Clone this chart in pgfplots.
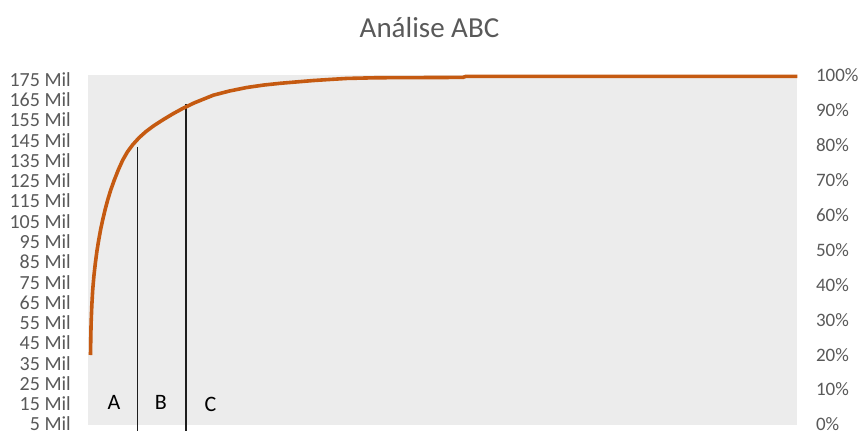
\documentclass[border=0pt]{standalone}
\usepackage{pgfplots}
\pgfplotsset{compat=1.18}
\usepackage{fontspec}
\setmainfont{Carlito}
\definecolor{bggray}{RGB}{236,236,236}
\definecolor{txtgray}{RGB}{89,89,89}
\definecolor{curveorange}{RGB}{197,90,17}
\definecolor{vline}{RGB}{30,30,30}
\begin{document}
\begin{tikzpicture}[x=1pt,y=1pt]
\useasboundingbox (0,0) rectangle (859,431);
\begin{axis}[
  at={(88.5pt,6.5pt)}, anchor=south west,
  scale only axis, width=708.8pt, height=349.2pt,
  xmin=0, xmax=709, ymin=4.8, ymax=177.0,
  xtick=\empty,
  ytick={5,15,...,175},
  yticklabels={5 Mil,15 Mil,25 Mil,35 Mil,45 Mil,55 Mil,65 Mil,75 Mil,85 Mil,95 Mil,105 Mil,115 Mil,125 Mil,135 Mil,145 Mil,155 Mil,165 Mil,175 Mil},
  yticklabel style={anchor=east, inner sep=0pt, xshift=-17.5pt, font=\fontsize{20}{22}\selectfont, text=txtgray},
  major tick length=0pt,
  axis line style={draw=none},
  axis background/.style={fill=bggray},
]
\end{axis}
\begin{axis}[
  at={(88.5pt,6.5pt)}, anchor=south west,
  scale only axis, width=708.8pt, height=349.2pt,
  xmin=0, xmax=709, ymin=0, ymax=100,
  axis y line*=right, axis x line=none,
  xtick=\empty,
  ytick={0,10,...,100},
  yticklabels={0\%,10\%,20\%,30\%,40\%,50\%,60\%,70\%,80\%,90\%,100\%},
  yticklabel style={anchor=west, inner sep=0pt, xshift=18.5pt, font=\fontsize{19}{22}\selectfont, text=txtgray},
  major tick length=0pt,
  axis line style={draw=none},
  clip=false,
]
\addplot[vline, line width=1.6pt] coordinates {(49.2,79.5) (49.2,-1.9)};
\addplot[vline, line width=1.6pt] coordinates {(97.8,91.8) (97.8,-1.9)};
\addplot[curveorange, line width=3.6pt, line join=round] coordinates {
(2.0,19.9) (2.3,25.0) (2.6,29.0) (3.3,34.0) (4.2,38.5) (5.4,42.5) (6.8,46.1) (8.4,49.6) (10.2,52.8) (12.1,55.8) (14.2,58.6) (16.6,61.5) (19.2,64.3) (22.3,67.2) (25.8,70.0) (29.8,72.9) (34.2,75.7) (39.0,78.1) (44.2,80.1) (50.5,82.1) (57.5,83.9) (65.5,85.6) (74.2,87.2) (84.0,88.9) (94.2,90.5) (105.8,92.1) (124.8,94.3) (141,95.5) (158.2,96.5) (175,97.2) (191.5,97.7) (208,98.1) (224.8,98.5) (241,98.8) (258.2,99.1) (288.2,99.3) (374.5,99.4) (377.5,99.7) (709,99.7)
};
\node[font=\fontsize{22}{24}\selectfont, text=black] at (axis cs:25.5,6.3) {A};
\node[font=\fontsize{22}{24}\selectfont, text=black] at (axis cs:72.5,6.3) {B};
\node[font=\fontsize{22}{24}\selectfont, text=black] at (axis cs:122,5.7) {C};
\end{axis}
\node[font=\fontsize{29}{32}\selectfont, text=txtgray] at (429.5,403) {Análise ABC};
\end{tikzpicture}
\end{document}
